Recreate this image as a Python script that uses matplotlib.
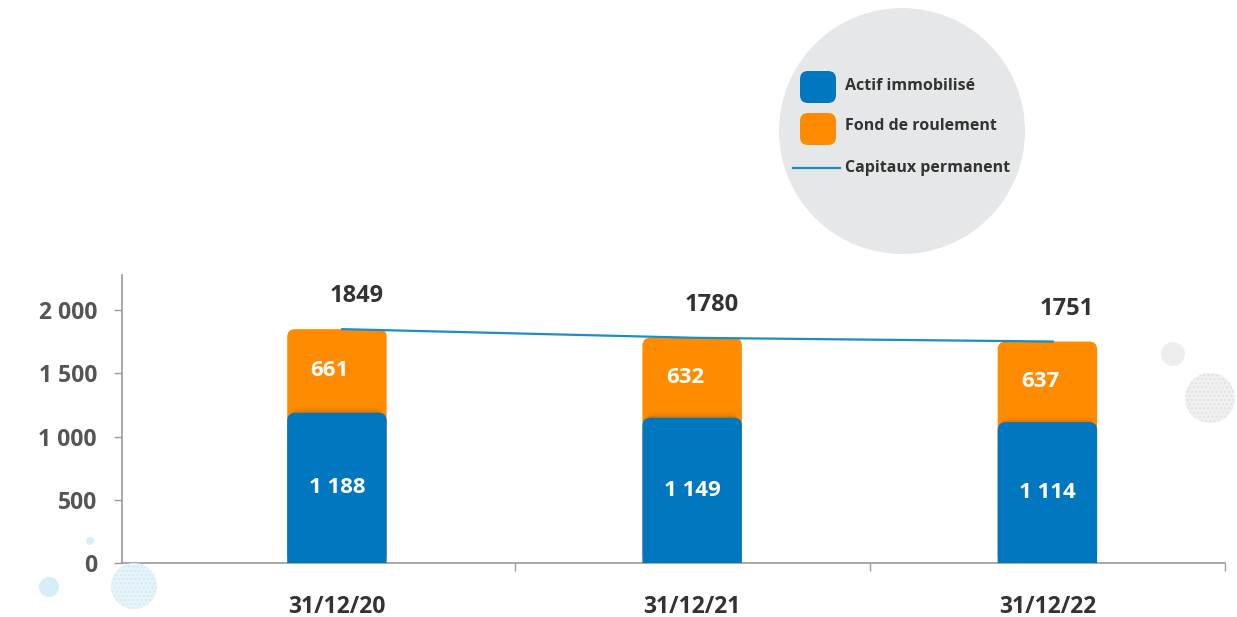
import matplotlib.pyplot as plt
import numpy as np
from matplotlib.patches import FancyBboxPatch, Circle
from matplotlib.lines import Line2D

dates = ["31/12/20", "31/12/21", "31/12/22"]
actif = [1188, 1149, 1114]
fond = [661, 632, 637]
capitaux = [1849, 1780, 1751]
y_ticks = [0, 500, 1000, 1500, 2000]
y_labels = ["0", "500", "1 000", "1 500", "2 000"]

BLUE = "#0077BF"
ORANGE = "#FF8C00"
LINE = "#1A8FC6"
DARK = "#333333"
GREY = "#555555"

plt.rcParams["font.family"] = ["Open Sans", "DejaVu Sans"]
plt.rcParams["font.weight"] = "bold"

fig = plt.figure(figsize=(12.37, 6.17), dpi=100)
ax = fig.add_axes([122 / 1237, 54 / 617, 1103 / 1237, 288 / 617])
ax.set_xlim(-0.605, 2.5)
ax.set_ylim(0, 2277)

x = np.arange(len(dates))
width = 0.28
# rounding: px -> data units
px_x = (2.5 + 0.605) / 1103
px_y = 2277 / 288
rad = 8 * px_x
aspect = px_y / px_x

for xi, a, f in zip(x, actif, fond):
    total = a + f
    ax.add_patch(FancyBboxPatch((xi - width / 2, 0), width, total,
                                boxstyle=f"round,pad=0,rounding_size={rad}",
                                mutation_aspect=aspect, fc=ORANGE, ec="none",
                                zorder=2))
    # soft shadow at the top of the blue block
    for k, al in enumerate([0.10, 0.07, 0.04]):
        ax.add_patch(FancyBboxPatch((xi - width / 2 + 0.01, -200), width - 0.02,
                                    a + 200 + (k + 1) * 2 * px_y,
                                    boxstyle=f"round,pad=0,rounding_size={rad}",
                                    mutation_aspect=aspect, fc="#7a3a00",
                                    ec="none", alpha=al, zorder=2.5))
    ax.add_patch(FancyBboxPatch((xi - width / 2, -200), width, a + 200,
                                boxstyle=f"round,pad=0,rounding_size={rad}",
                                mutation_aspect=aspect, fc=BLUE, ec="none",
                                zorder=3))
    ax.text(xi, a / 2, f"{a:,}".replace(",", " "), ha="center", va="center",
            color="white", fontsize=16, fontweight="bold", zorder=5)
    ax.text(xi - 0.02, a + f / 2, f"{f}", ha="center", va="center",
            color="white", fontsize=16, fontweight="bold", zorder=5)

ax.plot(x + 0.015, capitaux, color=LINE, lw=1.6, zorder=4)
for xi, c in zip(x, capitaux):
    ax.annotate(f"{c}", (xi, c), xytext=(14, 15), textcoords="offset points",
                ha="center", va="bottom", fontsize=17, fontweight="bold",
                color=DARK)

for s in ["top", "right"]:
    ax.spines[s].set_visible(False)
for s in ["left", "bottom"]:
    ax.spines[s].set_color("#9a9a9a")
    ax.spines[s].set_linewidth(1.2)

ax.set_yticks(y_ticks)
ax.set_yticklabels(y_labels)
ax.tick_params(axis="y", length=6, width=1, color="#9a9a9a", pad=12,
               labelsize=16.5, labelcolor=GREY)
ax.set_xticks(x)
ax.set_xticklabels(dates)
ax.tick_params(axis="x", length=0, pad=23, labelsize=16.5, labelcolor=DARK)
ax.set_xticks([0.5, 1.5, 2.5], minor=True)
ax.tick_params(axis="x", which="minor", length=6, width=1, color="#9a9a9a")
for lab in ax.get_xticklabels() + ax.get_yticklabels():
    lab.set_fontweight("bold")


def px_circle(cx, cy, r, **kw):
    # pixel coords from top-left -> inches
    return Circle((cx / 100, (617 - cy) / 100), r / 100,
                  transform=fig.dpi_scale_trans, **kw)


# legend bubble
fig.patches.append(px_circle(902, 131, 123, fc="#E6E7E8", ec="none", zorder=0))
fig.patches.append(FancyBboxPatch((8.00, (617 - 103) / 100), 0.36, 0.32,
                                  boxstyle="round,pad=0,rounding_size=0.08",
                                  transform=fig.dpi_scale_trans, fc=BLUE,
                                  ec="none", zorder=1))
fig.patches.append(FancyBboxPatch((8.00, (617 - 145) / 100), 0.36, 0.32,
                                  boxstyle="round,pad=0,rounding_size=0.08",
                                  transform=fig.dpi_scale_trans, fc=ORANGE,
                                  ec="none", zorder=1))
fig.lines.append(Line2D([793 / 1237, 840 / 1237], [(617 - 168) / 617] * 2,
                        transform=fig.transFigure, color=LINE, lw=1.6))
leg_labels = ["Actif immobilisé", "Fond de roulement", "Capitaux permanent"]
for lbl, py in zip(leg_labels, [86, 126, 168]):
    fig.text(845 / 1237, (617 - py) / 617, lbl, ha="left", va="center",
             fontsize=11.5, fontweight="bold", color=DARK)

# decorative dots
fig.patches.append(px_circle(49, 587, 10, fc="#D5EEF8", ec="none"))
fig.patches.append(px_circle(90, 541, 4, fc="#D5EEF8", ec="none"))
fig.patches.append(px_circle(134, 586, 23, fc="#E6F4FA", ec="#D0EBF6",
                             lw=0, hatch="...."))
fig.patches.append(px_circle(1173, 354, 12, fc="#EEEEEE", ec="none"))
fig.patches.append(px_circle(1210, 398, 25, fc="#F0F0F0", ec="#E2E2E2",
                             lw=0, hatch="...."))

fig.savefig("out.png", dpi=100)
